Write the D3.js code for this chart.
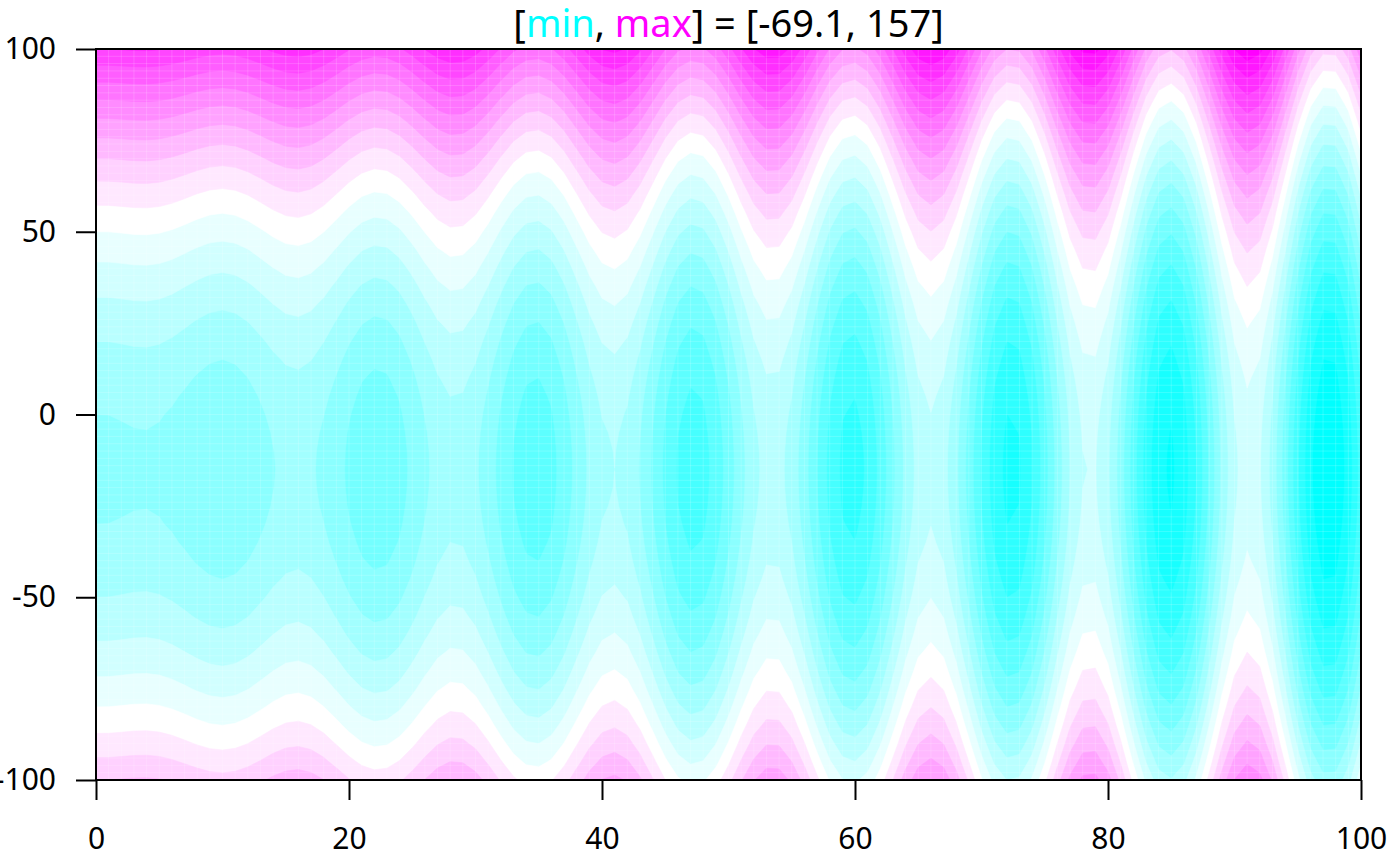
<!DOCTYPE html>
<html>
<head>
<meta charset="utf-8">
<script src="https://cdn.jsdelivr.net/npm/d3@7"></script>
<style>
  html, body { margin: 0; padding: 0; background: #fff; }
  svg text { font-family: "Noto Sans", "Open Sans", sans-serif; fill: #000; }
</style>
</head>
<body>
<div id="container"></div>
<script>
let w = 1400;
let h = 866;
let margin = { top: 49, right: 39, bottom: 86, left: 96 };

// x offset of the field, read column by column (x = 0 .. 100)
let xWave = [
  0.00, 0.04, 0.44, 0.90, 1.02, 0.50, -0.78, -2.63, -4.63, -6.20,
  -6.79, -6.08, -4.08, -1.20, 1.80, 4.04, 4.72, 3.39, 0.11, -4.51,
  -9.44, -13.44, -15.40, -14.67, -11.24, -5.83, 0.26, 5.45, 8.27, 7.76,
  3.75, -3.00, -11.01, -18.34, -23.14, -24.07, -20.72, -13.74, -4.75, 4.01,
  10.26, 12.23, 9.17, 1.54, -9.00, -19.96, -28.66, -32.86, -31.33, -24.29,
  -13.31, -1.04, 9.43, 15.35, 15.02, 8.23, -3.61, -17.77, -30.84, -39.56,
  -41.64, -36.40, -24.92, -9.95, 4.84, 15.73, 19.80, 15.78, 4.39, -11.82,
  -28.99, -42.92, -50.10, -48.61, -38.61, -22.42, -3.94, 12.25, 21.99, 22.66,
  13.80, -2.66, -22.90, -42.02, -55.29, -59.34, -52.97, -37.58, -16.82, 4.22,
  20.29, 27.24, 23.08, 8.57, -12.99, -36.45, -56.08, -66.85, -66.34, -54.10,
  -33.12
];

// y profile of the field, read along the left edge (y = -100 .. 100 by 5)
let yProfile = [
  70, 61.75, 54, 46.75, 40, 33.75, 28, 22.75, 18, 13.75,
  10, 6.75, 4, 1.75, 0, -1.25, -2, -2.25, -2, -1.25,
  0, 1.75, 4, 6.75, 10, 13.75, 18, 22.75, 28, 33.75,
  40, 46.75, 54, 61.75, 70, 78.75, 88, 97.75, 108, 118.75,
  130
];

// contour levels and axis ticks
let levels = [-70, -60, -50, -40, -30, -20, -10, 0, 10, 20, 30, 40,
  50, 60, 70, 80, 90, 100, 110, 120, 130, 140, 150];
let xTicks = [0, 20, 40, 60, 80, 100];
let yTicks = [-100, -50, 0, 50, 100];

let xs = d3.range(0, 101, 1);
let ys = d3.range(-100, 101, 5);
let nx = xs.length;
let ny = ys.length;

let cyan = '#00FFFF';
let magenta = '#FF00FF';

//colour of each band: cyan -> white -> magenta
let mid = (levels.length - 1) / 2;
function bandColor(i) {
  if (i <= mid) return d3.interpolateRgb(cyan, '#FFFFFF')(i / mid);
  return d3.interpolateRgb('#FFFFFF', magenta)((i - mid) / mid);
}

let x = d3.scaleLinear().domain([0, 100]).range([margin.left, w - margin.right]);
let y = d3.scaleLinear().domain([-100, 100]).range([h - margin.bottom, margin.top]);

let svg = d3.select('#container')
  .append('svg')
    .attr('width', w)
    .attr('height', h);

svg.append('clipPath')
    .attr('id', 'plotclip')
  .append('rect')
    .attr('x', x(0))
    .attr('y', y(100))
    .attr('width', x(100) - x(0))
    .attr('height', y(-100) - y(100));

//grid of values, row by row from the bottom
let values = [];
for (let j = 0; j < ny; j++) {
  for (let i = 0; i < nx; i++) {
    values.push(yProfile[j] + xWave[i]);
  }
}

let contours = d3.contours()
  .size([nx, ny])
  .thresholds(levels)
  (values);

//grid coords -> screen
let dxStep = xs[1] - xs[0];
let dyStep = ys[1] - ys[0];
let path = d3.geoPath(d3.geoTransform({
  point: function(gx, gy) {
    this.stream.point(
      x(xs[0] + (gx - 0.5) * dxStep),
      y(ys[0] + (gy - 0.5) * dyStep)
    );
  }
}));

let field = svg.append('g').attr('clip-path', 'url(#plotclip)');

field.selectAll('path.band')
  .data(contours)
  .enter()
  .append('path')
    .attr('class', 'band')
    .attr('d', path)
    .attr('fill', (d, i) => bandColor(i))
    .attr('stroke', (d, i) => bandColor(i))
    .attr('stroke-width', 0.6);

//faint seams of the cell grid
let seams = field.append('g')
  .attr('stroke', '#fff')
  .attr('stroke-opacity', 0.16)
  .attr('stroke-width', 1);

seams.selectAll('line.vs')
  .data(xs)
  .enter()
  .append('line')
    .attr('x1', d => x(d)).attr('x2', d => x(d))
    .attr('y1', y(100)).attr('y2', y(-100));

seams.selectAll('line.hs')
  .data(d3.range(-100, 101, 2))
  .enter()
  .append('line')
    .attr('y1', d => y(d)).attr('y2', d => y(d))
    .attr('x1', x(0)).attr('x2', x(100));

//frame
svg.append('rect')
  .attr('x', x(0))
  .attr('y', y(100))
  .attr('width', x(100) - x(0))
  .attr('height', y(-100) - y(100))
  .attr('fill', 'none')
  .attr('stroke', '#000')
  .attr('stroke-width', 2);

//axes (plain hyphen for negatives, as in the original)
let plain = d => String(d);

let xAxis = svg.append('g')
  .attr('transform', 'translate(0,' + y(-100) + ')')
  .call(d3.axisBottom(x).tickValues(xTicks).tickFormat(plain)
    .tickSize(20).tickSizeOuter(0).tickPadding(28));

let yAxis = svg.append('g')
  .attr('transform', 'translate(' + x(0) + ',0)')
  .call(d3.axisLeft(y).tickValues(yTicks).tickFormat(plain)
    .tickSize(20).tickSizeOuter(0).tickPadding(20));

[xAxis, yAxis].forEach(function(a) {
  a.select('.domain').remove();
  a.selectAll('.tick line').attr('stroke', '#000').attr('stroke-width', 2);
  a.selectAll('.tick text')
    .style('font-family', '"Noto Sans", "Open Sans", sans-serif')
    .style('font-size', '30px')
    .attr('fill', '#000');
});

//title
let title = svg.append('text')
  .attr('x', (x(0) + x(100)) / 2)
  .attr('y', 37)
  .attr('text-anchor', 'middle')
  .style('font-size', '38px');

title.append('tspan').text('[');
title.append('tspan').text('min').style('fill', cyan);
title.append('tspan').text(', ');
title.append('tspan').text('max').style('fill', magenta);
title.append('tspan').text('] = [-69.1, 157]');
</script>
</body>
</html>
